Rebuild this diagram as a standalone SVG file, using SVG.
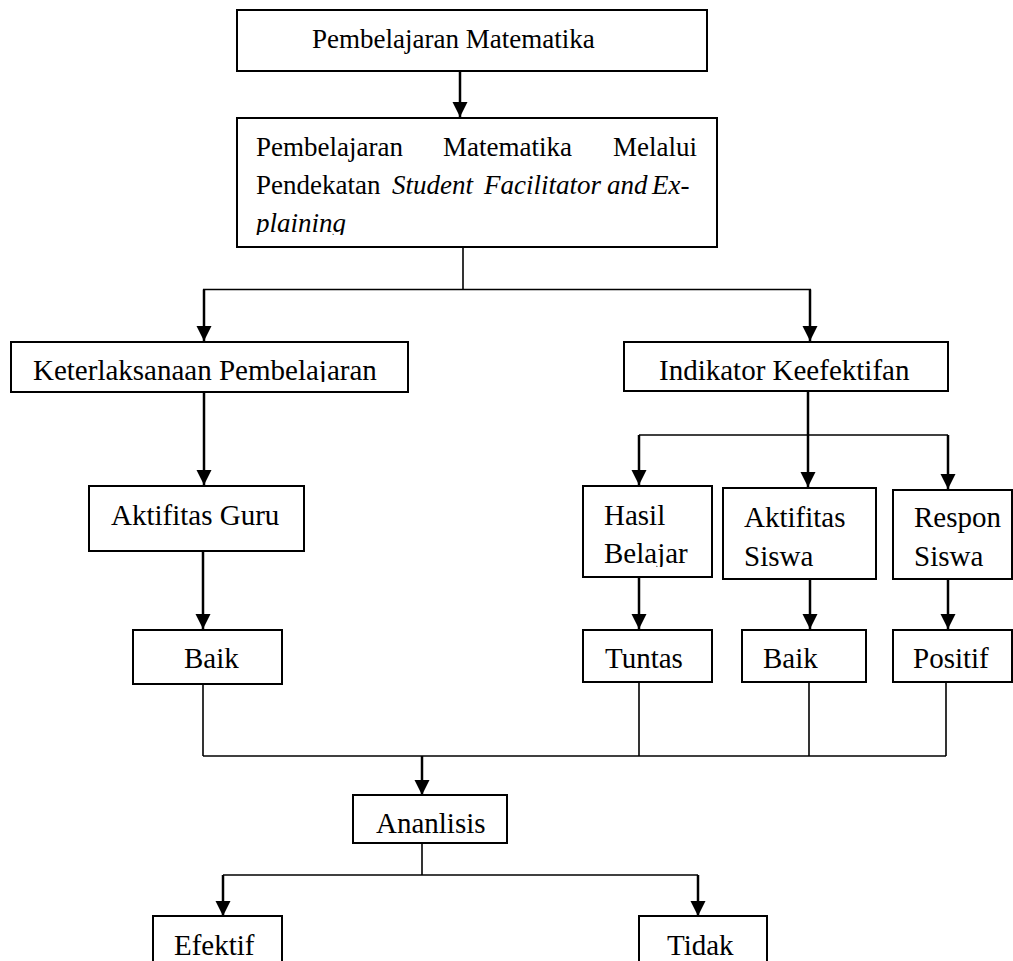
<svg xmlns="http://www.w3.org/2000/svg" width="1013" height="961" viewBox="0 0 1013 961">
<style>
.box{fill:#fff;stroke:#000;stroke-width:2}
.t{font-family:"Liberation Serif","Times New Roman",serif;font-size:29px;fill:#000}
.t27{font-family:"Liberation Serif","Times New Roman",serif;font-size:27px;fill:#000}
.i{font-style:italic}
.ln{fill:none;stroke:#000;stroke-width:1.6}
.ar{fill:none;stroke:#000;stroke-width:2.5;marker-end:url(#ah)}
</style>
<defs>
<marker id="ah" markerUnits="userSpaceOnUse" markerWidth="16" markerHeight="16" refX="15" refY="8" orient="auto" viewBox="0 0 16 16">
<path d="M0,0.5 L15,8 L0,15.5 Z" fill="#000"/>
</marker>
<clipPath id="c1"><rect x="237" y="118" width="480" height="117"/></clipPath>
<clipPath id="c2"><rect x="11" y="342" width="397" height="40"/></clipPath>
<clipPath id="c3"><rect x="583" y="486" width="129" height="81"/></clipPath>
<clipPath id="c4"><rect x="353" y="795" width="154" height="39"/></clipPath>
</defs>
<g id="connectors">
<line class="ar" x1="460" y1="71" x2="460" y2="117"/>
<polyline class="ln" points="463,247 463,289.5"/>
<line class="ln" x1="203" y1="289.5" x2="811" y2="289.5"/>
<line class="ar" x1="204" y1="289.5" x2="204" y2="341"/>
<line class="ar" x1="810" y1="289.5" x2="810" y2="341"/>
<line class="ar" x1="204" y1="392" x2="204" y2="485"/>
<line class="ar" x1="203" y1="551" x2="203" y2="629"/>
<line class="ar" x1="808" y1="391" x2="808" y2="487"/>
<line class="ln" x1="639" y1="435" x2="948" y2="435"/>
<line class="ar" x1="639" y1="435" x2="639" y2="485"/>
<line class="ar" x1="948" y1="435" x2="948" y2="489"/>
<line class="ar" x1="639" y1="577" x2="639" y2="629"/>
<line class="ar" x1="810" y1="579" x2="810" y2="629"/>
<line class="ar" x1="948" y1="579" x2="948" y2="629"/>
<line class="ln" x1="203" y1="684" x2="203" y2="756"/>
<line class="ln" x1="639" y1="682" x2="639" y2="756"/>
<line class="ln" x1="809" y1="682" x2="809" y2="756"/>
<line class="ln" x1="946" y1="682" x2="946" y2="756"/>
<line class="ln" x1="203" y1="756" x2="946" y2="756"/>
<line class="ar" x1="422" y1="756" x2="422" y2="795"/>
<line class="ln" x1="422" y1="843" x2="422" y2="875"/>
<line class="ln" x1="223" y1="875" x2="698" y2="875"/>
<line class="ar" x1="223" y1="875" x2="223" y2="916"/>
<line class="ar" x1="698" y1="875" x2="698" y2="916"/>
</g>
<g id="n-pembelajaran">
<rect class="box" x="237" y="10" width="470" height="61"/>
<text class="t27" x="312" y="48">Pembelajaran Matematika</text>
</g>
<g id="n-sfe">
<rect class="box" x="237" y="118" width="480" height="129"/>
<g clip-path="url(#c1)">
<text class="t27" x="256" y="156">Pembelajaran</text>
<text class="t27" x="443" y="156">Matematika</text>
<text class="t27" x="613" y="156">Melalui</text>
<text class="t27" x="256" y="194">Pendekatan</text>
<text class="t27 i" x="392" y="194">Student</text>
<text class="t27 i" x="484" y="194">Facilitator</text>
<text class="t27 i" x="607" y="194">and</text>
<text class="t27 i" x="652" y="194">Ex-</text>
<text class="t27 i" x="256" y="232">plaining</text>
</g>
</g>
<g id="n-keterlaksanaan">
<rect class="box" x="11" y="342" width="397" height="50"/>
<text class="t" x="33" y="380" clip-path="url(#c2)">Keterlaksanaan Pembelajaran</text>
</g>
<g id="n-indikator">
<rect class="box" x="624" y="342" width="324" height="49"/>
<text class="t" x="659" y="380">Indikator Keefektifan</text>
</g>
<g id="n-guru">
<rect class="box" x="89" y="486" width="215" height="65"/>
<text class="t" x="111" y="525">Aktifitas Guru</text>
</g>
<g id="n-hasil">
<rect class="box" x="583" y="486" width="129" height="91"/>
<g clip-path="url(#c3)">
<text class="t" x="604" y="525">Hasil</text>
<text class="t" x="604" y="563">Belajar</text>
</g>
</g>
<g id="n-aktsiswa">
<rect class="box" x="723" y="488" width="153" height="91"/>
<text class="t" x="744" y="527">Aktifitas</text>
<text class="t" x="744" y="566">Siswa</text>
</g>
<g id="n-respon">
<rect class="box" x="893" y="490" width="119" height="89"/>
<text class="t" x="914" y="527">Respon</text>
<text class="t" x="914" y="566">Siswa</text>
</g>
<g id="n-baik1">
<rect class="box" x="133" y="630" width="149" height="54"/>
<text class="t" x="184" y="668">Baik</text>
</g>
<g id="n-tuntas">
<rect class="box" x="583" y="630" width="129" height="52"/>
<text class="t" x="605" y="668">Tuntas</text>
</g>
<g id="n-baik2">
<rect class="box" x="742" y="630" width="124" height="52"/>
<text class="t" x="763" y="668">Baik</text>
</g>
<g id="n-positif">
<rect class="box" x="893" y="630" width="119" height="52"/>
<text class="t" x="913" y="668">Positif</text>
</g>
<g id="n-analisis">
<rect class="box" x="353" y="795" width="154" height="48"/>
<text class="t" x="376" y="833" clip-path="url(#c4)">Ananlisis</text>
</g>
<g id="n-efektif">
<rect class="box" x="153" y="916" width="129" height="60"/>
<text class="t" x="174" y="955">Efektif</text>
</g>
<g id="n-tidak">
<rect class="box" x="639" y="916" width="128" height="60"/>
<text class="t" x="667" y="955">Tidak</text>
</g>
</svg>
